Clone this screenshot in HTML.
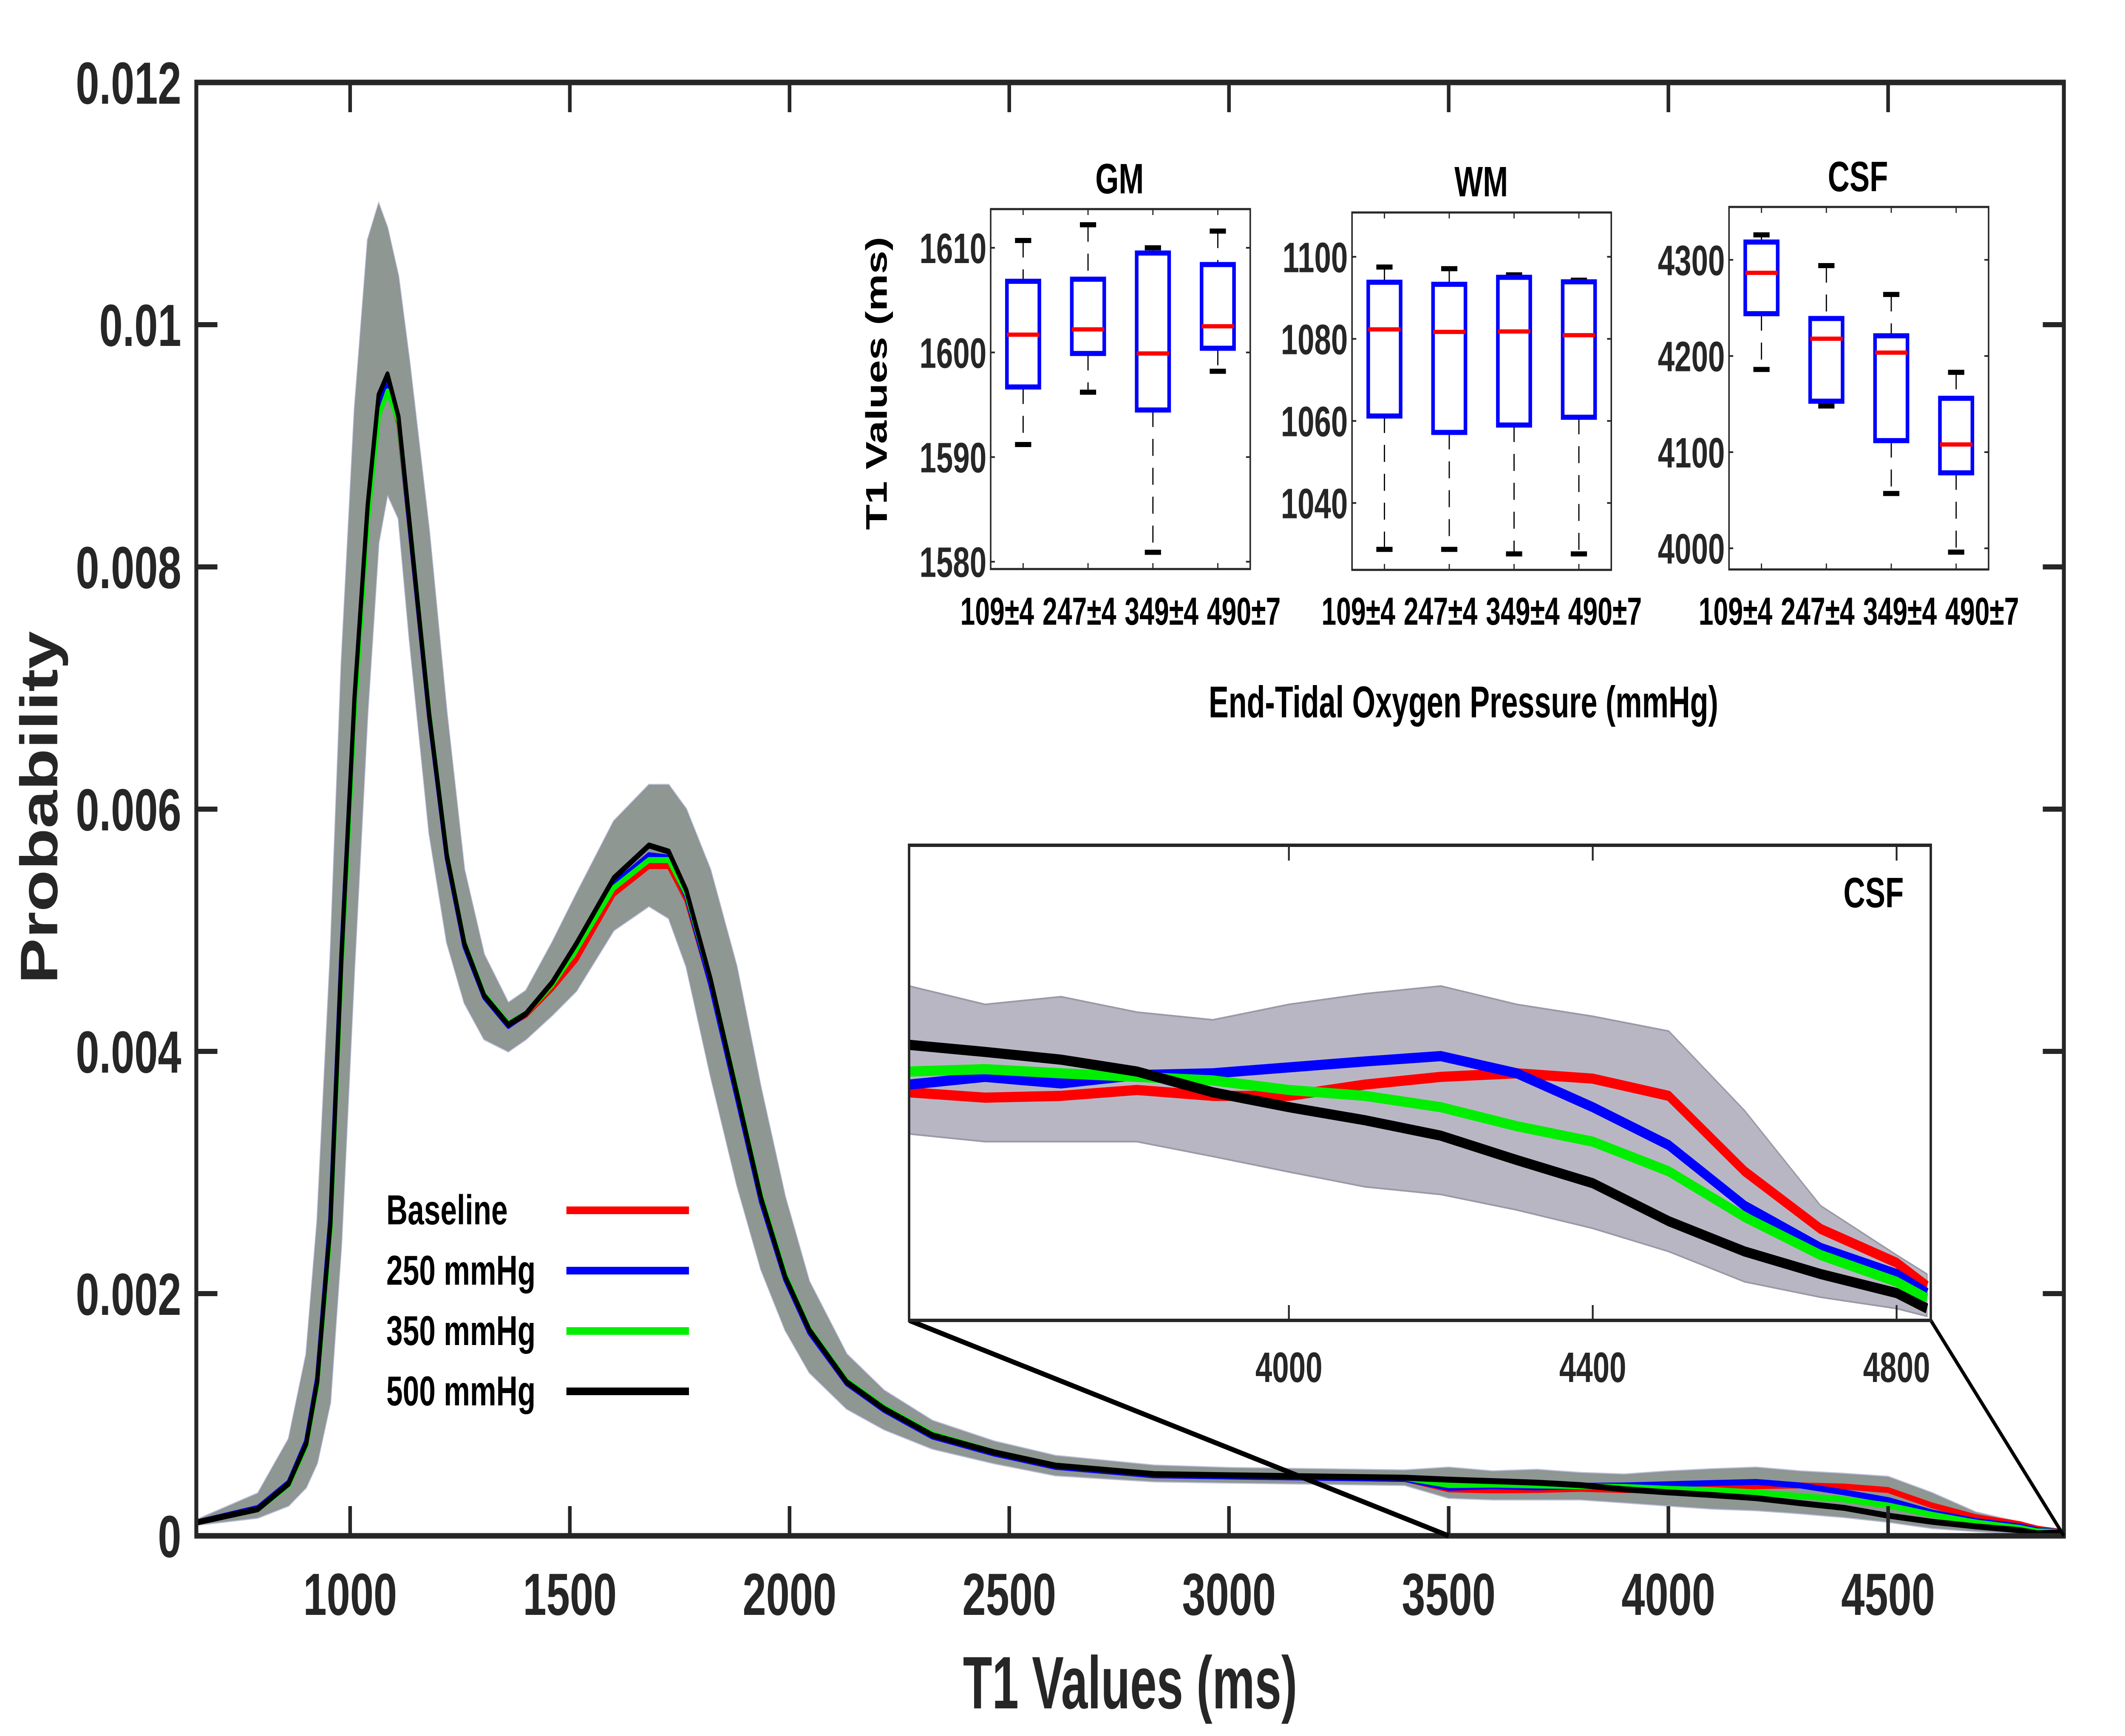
<!DOCTYPE html>
<html><head><meta charset="utf-8"><title>T1 distribution</title>
<style>
html,body{margin:0;padding:0;background:#fff;width:100%;height:100%;overflow:hidden;}
svg{display:block;width:100vw;height:100vh;font-family:"Liberation Sans",sans-serif;font-weight:bold;}
</style></head>
<body>
<svg id="chart" xmlns="http://www.w3.org/2000/svg" viewBox="0 0 7057 4085" preserveAspectRatio="none">
<rect width="7057" height="4085" fill="#fff"/>
<g id="main-layer"></g>
<g id="inset-layer"></g>
<g id="box-layer"></g>
</svg>
<script>
// ---------- main chart data ----------
const mainT = [650,790,860,900,925,955,980,1010,1040,1065,1085,1110,1135,1180,1220,1260,1305,1360,1400,1460,1515,1600,1680,1725,1765,1820,1880,1935,1990,2045,2130,2215,2325,2465,2605,2830,3000,3200,3400];
const mainBaseline = [0.00011,0.00023,0.00042,0.00074,0.00124,0.00252,0.00468,0.00683,0.00840,0.00930,0.00950,0.00918,0.00833,0.00676,0.00560,0.00488,0.00446,0.00422,0.00430,0.00452,0.00476,0.00530,0.00553,0.00553,0.00525,0.00455,0.00363,0.00276,0.00212,0.00168,0.00126,0.00104,0.00082,0.00068,0.00057,0.00050,0.00049,0.00048,0.00047];
const main250 = [0.00011,0.00023,0.00044,0.00078,0.00130,0.00262,0.00480,0.00690,0.00846,0.00936,0.00953,0.00920,0.00834,0.00676,0.00560,0.00487,0.00445,0.00421,0.00431,0.00456,0.00485,0.00538,0.00562,0.00560,0.00528,0.00455,0.00362,0.00276,0.00212,0.00168,0.00126,0.00104,0.00082,0.00068,0.00057,0.00050,0.00049,0.00048,0.00047];
const main350 = [0.00011,0.00022,0.00042,0.00074,0.00124,0.00250,0.00465,0.00676,0.00836,0.00924,0.00945,0.00920,0.00838,0.00680,0.00563,0.00490,0.00447,0.00423,0.00431,0.00455,0.00484,0.00535,0.00558,0.00558,0.00530,0.00460,0.00368,0.00281,0.00216,0.00171,0.00128,0.00106,0.00084,0.00069,0.00058,0.00051,0.00050,0.00049,0.00048];
const main500 = [0.00011,0.00022,0.00043,0.00076,0.00127,0.00257,0.00475,0.00692,0.00851,0.00942,0.00959,0.00924,0.00837,0.00678,0.00562,0.00489,0.00446,0.00422,0.00431,0.00457,0.00489,0.00543,0.00570,0.00565,0.00533,0.00460,0.00366,0.00279,0.00214,0.00170,0.00127,0.00105,0.00083,0.00069,0.00058,0.00051,0.00050,0.00049,0.00048];
const mainBandUpper = [0.00013,0.00035,0.0008,0.0015,0.0026,0.0048,0.0072,0.0093,0.0107,0.0110,0.0108,0.0104,0.0097,0.0083,0.0068,0.0055,0.0048,0.0044,0.0045,0.0049,0.0053,0.0059,0.0062,0.0062,0.0060,0.0055,0.0047,0.0037,0.0028,0.0021,0.0015,0.0012,0.00095,0.00078,0.00066,0.00058,0.00056,0.00055,0.00054];
const mainBandLower = [0.00009,0.00015,0.00025,0.0004,0.0006,0.0011,0.0024,0.0047,0.0068,0.0082,0.0086,0.0084,0.0074,0.0058,0.0049,0.0044,0.0041,0.0040,0.0041,0.0043,0.0045,0.0050,0.0052,0.0051,0.0047,0.0038,0.0029,0.0022,0.0017,0.00135,0.00105,0.00088,0.00072,0.0006,0.0005,0.00045,0.00044,0.00043,0.00042];
const mainEndT = 4900;
const mainEndValue = 0.00003;
const mainXTicks = [1000,1500,2000,2500,3000,3500,4000,4500];
const mainYTicks = [0,0.002,0.004,0.006,0.008,0.01,0.012];
const mainYTickLabels = ["0","0.002","0.004","0.006","0.008","0.01","0.012"];

// ---------- CSF zoom inset data (units of 1e-4) ----------
const tailT = [3500,3600,3700,3800,3900,4000,4100,4200,4300,4400,4500,4600,4700,4800,4840];
const tailBaseline = [3.84,3.75,3.78,3.88,3.78,3.78,3.97,4.10,4.16,4.07,3.78,2.51,1.54,0.97,0.58];
const tail250 = [3.97,4.10,3.99,4.13,4.16,4.26,4.36,4.45,4.16,3.59,2.95,1.93,1.22,0.78,0.46];
const tail350 = [4.19,4.23,4.16,4.10,4.04,3.88,3.78,3.59,3.27,3.01,2.51,1.74,1.10,0.65,0.37];
const tail500 = [4.64,4.52,4.39,4.19,3.84,3.59,3.37,3.11,2.70,2.31,1.67,1.16,0.78,0.46,0.20];
const tailBandUpper = [5.63,5.32,5.45,5.19,5.06,5.32,5.50,5.63,5.32,5.12,4.87,3.53,1.93,1.10,0.78];
const tailBandLower = [3.14,3.01,3.01,3.01,2.76,2.50,2.25,2.12,1.86,1.55,1.16,0.65,0.39,0.20,0.07];
const insetXTicks = [4000,4400,4800];

// ---------- box plot data ----------
const boxCategories = ["109±4","247±4","349±4","490±7"];
const gmMedian = [1601.7,1602.2,1599.9,1602.5];
const gmQ1 = [1596.7,1599.9,1594.5,1600.4];
const gmQ3 = [1606.8,1607.0,1609.5,1608.4];
const gmLow = [1591.2,1596.2,1580.9,1598.2];
const gmHigh = [1610.7,1612.2,1610.0,1611.6];
const gmTicks = [1580,1590,1600,1610];
const wmMedian = [1082.3,1081.7,1081.8,1080.9];
const wmQ1 = [1061.2,1057.2,1059.0,1060.9];
const wmQ3 = [1093.8,1093.3,1095.0,1093.9];
const wmLow = [1028.7,1028.7,1027.6,1027.6];
const wmHigh = [1097.5,1097.1,1095.6,1094.3];
const wmTicks = [1040,1060,1080,1100];
const csfMedian = [4286.5,4218,4203.5,4108];
const csfQ1 = [4244,4153,4112,4078.5];
const csfQ3 = [4318.5,4239,4221,4156];
const csfLow = [4186,4148,4057,3996];
const csfHigh = [4326,4294,4264,4183];
const csfTicks = [4000,4100,4200,4300];

// ---------- rendering ----------
const NS = "http://www.w3.org/2000/svg";
function mk(tag, attrs, parent) {
  const e = document.createElementNS(NS, tag);
  for (const k in attrs) e.setAttribute(k, attrs[k]);
  parent.appendChild(e);
  return e;
}
function txt(str, attrs, parent) { const t = mk("text", attrs, parent); t.textContent = str; return t; }

const M = {l:652, r:6854, t:194, b:3614, x0:650, x1:4900, y0:0, y1:0.012};
const X = T => M.l + (T - M.x0) / (M.x1 - M.x0) * (M.r - M.l);
const Y = v => M.b - (v - M.y0) / (M.y1 - M.y0) * (M.b - M.t);

const mainLayer = document.getElementById("main-layer");
const colors = {baseline:"#ff0000", p250:"#0000ff", p350:"#00ee00", p500:"#000000"};

function fullSeries(mainArr, tailArr) {
  const pts = mainT.map((t,i)=>[t, mainArr[i]]);
  tailT.forEach((t,i)=>pts.push([t, tailArr[i]*1e-4]));
  pts.push([mainEndT, mainEndValue]);
  return pts;
}
const bandUp = fullSeries(mainBandUpper, tailBandUpper);
const bandLo = fullSeries(mainBandLower, tailBandLower);

let d = bandUp.map((p,i)=>(i?"L":"M")+X(p[0]).toFixed(1)+","+Y(p[1]).toFixed(1)).join("");
d += bandLo.slice().reverse().map(p=>"L"+X(p[0]).toFixed(1)+","+Y(p[1]).toFixed(1)).join("") + "Z";
const band = mk("path",{d:d, fill:"#8e9792", stroke:"#8a8fa8", "stroke-width":5, "stroke-opacity":0.6}, mainLayer);



const seriesDefs = [
  {name:"baseline", m:mainBaseline, t:tailBaseline, c:colors.baseline},
  {name:"250-mmhg", m:main250, t:tail250, c:colors.p250},
  {name:"350-mmhg", m:main350, t:tail350, c:colors.p350},
  {name:"500-mmhg", m:main500, t:tail500, c:colors.p500}
];
seriesDefs.forEach(s=>{
  const pts = fullSeries(s.m, s.t);
  const p = mk("path",{d:pts.map((q,i)=>(i?"L":"M")+X(q[0]).toFixed(1)+","+Y(q[1]).toFixed(1)).join(""), fill:"none", stroke:s.c, "stroke-width":14, "stroke-linejoin":"round"}, mainLayer);
  
  
});

const frame = mk("rect",{x:M.l, y:M.t, width:M.r-M.l, height:M.b-M.t, fill:"none", stroke:"#262626", "stroke-width":13}, mainLayer);


mainXTicks.forEach(t=>{
  const x = X(t);
  mk("line",{x1:x,x2:x,y1:M.b,y2:M.b-70,stroke:"#262626","stroke-width":12}, mainLayer);
  mk("line",{x1:x,x2:x,y1:M.t,y2:M.t+70,stroke:"#262626","stroke-width":12}, mainLayer);
  const lb = txt(String(t),{x:x, y:3800, "font-size":140, "text-anchor":"middle", fill:"#262626"}, mainLayer);
  
  
});
mainYTicks.forEach((v,i)=>{
  const y = Y(v);
  mk("line",{x1:M.l,x2:M.l+70,y1:y,y2:y,stroke:"#262626","stroke-width":12}, mainLayer);
  mk("line",{x1:M.r,x2:M.r-70,y1:y,y2:y,stroke:"#262626","stroke-width":12}, mainLayer);
  const lb = txt(mainYTickLabels[i],{x:M.l-50, y:y+50, "font-size":140, "text-anchor":"end", fill:"#262626"}, mainLayer);
  
  
});
const xt = txt("T1 Values (ms)",{x:3753, y:4020, "font-size":175, "text-anchor":"middle", fill:"#262626", textLength:1110, lengthAdjust:"spacingAndGlyphs"}, mainLayer);


const yt = txt("Probability",{x:0, y:0, "font-size":175, "text-anchor":"middle", fill:"#262626", transform:"translate(190,1900) rotate(-90)", textLength:830, lengthAdjust:"spacingAndGlyphs"}, mainLayer);



const legendLabels = ["Baseline","250 mmHg","350 mmHg","500 mmHg"];
const legendColors = [colors.baseline, colors.p250, colors.p350, colors.p500];
const legendY = [2848, 2990, 3132, 3274];
legendLabels.forEach((lab,i)=>{
  const g = mk("g",{}, mainLayer);
  
  
  txt(lab,{x:1283, y:legendY[i]+33, "font-size":98, fill:"#000"}, g);
  mk("line",{x1:1881,x2:2288,y1:legendY[i],y2:legendY[i],stroke:legendColors[i],"stroke-width":18}, g);
});

// ---------- CSF zoom inset ----------
const I = {l:3019, r:6412, t:1989, b:3107, x0:3500, x1:4845, y0:0, y1:8};
const IX = T => I.l + (T - I.x0) / (I.x1 - I.x0) * (I.r - I.l);
const IY = v => I.b - (v - I.y0) / (I.y1 - I.y0) * (I.b - I.t);
const insetLayer = document.getElementById("inset-layer");
const c1 = mk("line",{x1:I.l,y1:I.b,x2:X(3500),y2:M.b,stroke:"#000","stroke-width":12}, insetLayer);


const c2 = mk("line",{x1:I.r,y1:I.b,x2:M.r,y2:M.b,stroke:"#000","stroke-width":10}, insetLayer);


const ibg = mk("rect",{x:I.l,y:I.t,width:I.r-I.l,height:I.b-I.t,fill:"#fff"}, insetLayer);


let di = tailT.map((t,i)=>(i?"L":"M")+IX(t).toFixed(1)+","+IY(tailBandUpper[i]).toFixed(1)).join("");
di += tailT.slice().reverse().map((t,j)=>{const i=tailT.length-1-j; return "L"+IX(t).toFixed(1)+","+IY(tailBandLower[i]).toFixed(1);}).join("")+"Z";
const ib = mk("path",{d:di, fill:"#b9b6c4", stroke:"#9a9aa6", "stroke-width":4}, insetLayer);


seriesDefs.forEach(s=>{
  const p = mk("path",{d:tailT.map((t,i)=>(i?"L":"M")+IX(t).toFixed(1)+","+IY(s.t[i]).toFixed(1)).join(""), fill:"none", stroke:s.c, "stroke-width":24, "stroke-linejoin":"round"}, insetLayer);
  
  
});
const iframe = mk("rect",{x:I.l,y:I.t,width:I.r-I.l,height:I.b-I.t,fill:"none",stroke:"#262626","stroke-width":8}, insetLayer);


insetXTicks.forEach(t=>{
  const x = IX(t);
  mk("line",{x1:x,x2:x,y1:I.b,y2:I.b-36,stroke:"#262626","stroke-width":6}, insetLayer);
  mk("line",{x1:x,x2:x,y1:I.t,y2:I.t+36,stroke:"#262626","stroke-width":6}, insetLayer);
  const lb = txt(String(t),{x:x, y:3252, "font-size":100, "text-anchor":"middle", fill:"#262626"}, insetLayer);
  
  
});
const ititle = txt("CSF",{x:6222, y:2135, "font-size":100, "text-anchor":"middle", fill:"#000"}, insetLayer);



// ---------- box plots ----------
const boxLayer = document.getElementById("box-layer");
const panels = [
  {name:"gm", title:"GM", l:3290, r:4152, t:492, b:1339, y0:1579.3, y1:1613.7, ticks:gmTicks, med:gmMedian, q1:gmQ1, q3:gmQ3, lo:gmLow, hi:gmHigh, tx:3718, ty:455},
  {name:"wm", title:"WM", l:4490, r:5351, t:500, b:1341, y0:1023.7, y1:1110.8, ticks:wmTicks, med:wmMedian, q1:wmQ1, q3:wmQ3, lo:wmLow, hi:wmHigh, tx:4919, ty:462},
  {name:"csf", title:"CSF", l:5742, r:6604, t:487, b:1340, y0:3978, y1:4355, ticks:csfTicks, med:csfMedian, q1:csfQ1, q3:csfQ3, lo:csfLow, hi:csfHigh, tx:6170, ty:450}
];
panels.forEach(P=>{
  const g = mk("g",{}, boxLayer);
  
  
  const py = v => P.b - (v - P.y0)/(P.y1 - P.y0)*(P.b - P.t);
  const px = i => P.l + (i + 0.5)/boxCategories.length*(P.r - P.l);
  const bw = 0.5/boxCategories.length*(P.r - P.l);
  const pc = (P.l + P.r)/2;
  mk("rect",{x:P.l,y:P.t,width:P.r-P.l,height:P.b-P.t,fill:"#fff",stroke:"#262626","stroke-width":5}, g);
  P.ticks.forEach(v=>{
    const y = py(v);
    mk("line",{x1:P.l,x2:P.l+14,y1:y,y2:y,stroke:"#262626","stroke-width":4}, g);
    mk("line",{x1:P.r,x2:P.r-14,y1:y,y2:y,stroke:"#262626","stroke-width":4}, g);
    const lb = txt(String(v),{x:P.l-14, y:y+36, "font-size":100, "text-anchor":"end", fill:"#262626"}, g);
    
    
  });
  boxCategories.forEach((c,i)=>{
    const x = px(i);
    mk("line",{x1:x,x2:x,y1:P.b,y2:P.b-14,stroke:"#262626","stroke-width":4}, g);
    mk("line",{x1:x,x2:x,y1:P.t,y2:P.t+14,stroke:"#262626","stroke-width":4}, g);
    const lb = txt(c,{x:pc + (i-1.5)*273, y:1470, "font-size":92, "text-anchor":"middle", fill:"#000", textLength:245, lengthAdjust:"spacingAndGlyphs"}, g);
    
    
    const bx = mk("g",{}, g);
    
    
    mk("line",{x1:x,x2:x,y1:py(P.hi[i]),y2:py(P.q3[i]),stroke:"#000","stroke-width":4,"stroke-dasharray":"40 28"}, bx);
    mk("line",{x1:x,x2:x,y1:py(P.q1[i]),y2:py(P.lo[i]),stroke:"#000","stroke-width":4,"stroke-dasharray":"40 28"}, bx);
    mk("line",{x1:x-bw/4,x2:x+bw/4,y1:py(P.hi[i]),y2:py(P.hi[i]),stroke:"#000","stroke-width":12}, bx);
    mk("line",{x1:x-bw/4,x2:x+bw/4,y1:py(P.lo[i]),y2:py(P.lo[i]),stroke:"#000","stroke-width":12}, bx);
    mk("rect",{x:x-bw/2,y:py(P.q3[i]),width:bw,height:py(P.q1[i])-py(P.q3[i]),fill:"none",stroke:"#0000ff","stroke-width":12}, bx);
    mk("line",{x1:x-bw/2,x2:x+bw/2,y1:py(P.med[i]),y2:py(P.med[i]),stroke:"#ff0000","stroke-width":10}, bx);
  });
  const tt = txt(P.title,{x:P.tx, y:P.ty, "font-size":100, "text-anchor":"middle", fill:"#000"}, g);
  
  
});
const bxy = txt("T1 Values (ms)",{x:0,y:0,"font-size":100,"text-anchor":"middle",fill:"#000",transform:"translate(2945,902) rotate(-90)", textLength:690, lengthAdjust:"spacingAndGlyphs"}, boxLayer);


const bxx = txt("End-Tidal Oxygen Pressure (mmHg)",{x:4860,y:1688,"font-size":105,"text-anchor":"middle",fill:"#000", textLength:1692, lengthAdjust:"spacingAndGlyphs"}, boxLayer);


</script>
</body></html>
